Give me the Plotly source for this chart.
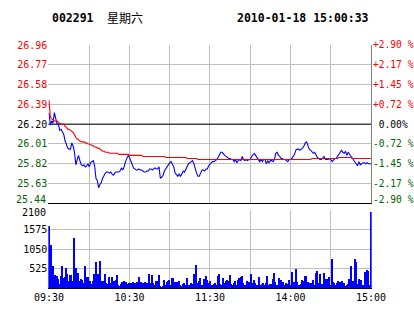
import plotly.graph_objects as go

# ---------------- data ----------------
MINUTES = list(range(241))  # minute index from 09:30 (lunch break removed)

PRICE = [
    26.31, 26.19, 26.23, 26.21, 26.31, 26.26, 26.20, 26.20, 26.14, 26.15,
    26.12, 26.10, 26.04, 26.00, 25.97, 25.96, 25.96, 26.02, 25.99, 25.93,
    25.81, 25.86, 25.90, 25.85, 25.81, 25.80, 25.81, 25.79, 25.80, 25.82,
    25.79, 25.83, 25.84, 25.85, 25.80, 25.68, 25.66, 25.59, 25.62, 25.64,
    25.68, 25.71, 25.73, 25.74, 25.74, 25.73, 25.74, 25.72, 25.71, 25.73,
    25.74, 25.74, 25.74, 25.75, 25.78, 25.76, 25.79, 25.84, 25.88, 25.90,
    25.88, 25.84, 25.81, 25.78, 25.77, 25.76, 25.76, 25.77, 25.76, 25.76,
    25.75, 25.74, 25.74, 25.75, 25.75, 25.77, 25.77, 25.76, 25.77, 25.78,
    25.77, 25.77, 25.79, 25.68, 25.69, 25.71, 25.75, 25.77, 25.79, 25.82,
    25.83, 25.84, 25.82, 25.79, 25.73, 25.71, 25.70, 25.72, 25.70, 25.72,
    25.75, 25.74, 25.77, 25.79, 25.82, 25.83, 25.84, 25.85, 25.82, 25.76,
    25.73, 25.70, 25.70, 25.73, 25.76, 25.76, 25.75, 25.77, 25.77, 25.80,
    25.82, 25.83, 25.84, 25.84, 25.85, 25.86, 25.88, 25.90, 25.93, 25.93,
    25.91, 25.90, 25.89, 25.88, 25.87, 25.87, 25.86, 25.86, 25.84, 25.86,
    25.83, 25.85, 25.86, 25.85, 25.89, 25.86, 25.85, 25.86, 25.85, 25.86,
    25.86, 25.89, 25.91, 25.92, 25.90, 25.88, 25.86, 25.84, 25.86, 25.84,
    25.86, 25.86, 25.82, 25.85, 25.83, 25.85, 25.85, 25.84, 25.86, 25.92,
    25.93, 25.90, 25.89, 25.87, 25.87, 25.86, 25.86, 25.85, 25.84, 25.86,
    25.86, 25.87, 25.89, 25.91, 25.95, 25.96, 25.96, 25.95, 25.96, 25.97,
    25.99, 26.02, 26.03, 26.00, 25.96, 25.95, 25.93, 25.92, 25.93, 25.90,
    25.88, 25.87, 25.86, 25.86, 25.88, 25.89, 25.86, 25.86, 25.86, 25.87,
    25.86, 25.84, 25.86, 25.87, 25.87, 25.89, 25.91, 25.92, 25.95, 25.93,
    25.92, 25.94, 25.90, 25.93, 25.91, 25.89, 25.87, 25.86, 25.83, 25.81,
    25.80, 25.84, 25.81, 25.82, 25.83, 25.83, 25.82, 25.83, 25.82, 25.82,
    25.82,
]

AVG_PRICE = [
    26.43, 26.27, 26.25, 26.24, 26.23, 26.23, 26.23, 26.22, 26.21, 26.20,
    26.20, 26.20, 26.18, 26.17, 26.15, 26.15, 26.14, 26.13, 26.12, 26.10,
    26.07, 26.06, 26.05, 26.04, 26.03, 26.03, 26.03, 26.02, 26.02, 26.01,
    26.01, 26.00, 26.00, 25.99, 25.98, 25.98, 25.97, 25.97, 25.96, 25.95,
    25.94, 25.94, 25.93, 25.93, 25.93, 25.92, 25.92, 25.92, 25.92, 25.92,
    25.92, 25.92, 25.91, 25.91, 25.91, 25.91, 25.91, 25.91, 25.91, 25.91,
    25.90, 25.90, 25.90, 25.90, 25.90, 25.90, 25.90, 25.90, 25.90, 25.90,
    25.89, 25.89, 25.89, 25.89, 25.89, 25.89, 25.89, 25.89, 25.89, 25.89,
    25.89, 25.89, 25.89, 25.89, 25.89, 25.89, 25.89, 25.88, 25.88, 25.88,
    25.88, 25.88, 25.88, 25.88, 25.88, 25.88, 25.88, 25.88, 25.88, 25.88,
    25.88, 25.88, 25.88, 25.87, 25.87, 25.87, 25.87, 25.87, 25.87, 25.87,
    25.87, 25.86, 25.86, 25.86, 25.86, 25.86, 25.86, 25.86, 25.86, 25.86,
    25.86, 25.86, 25.86, 25.86, 25.86, 25.86, 25.86, 25.86, 25.86, 25.86,
    25.86, 25.86, 25.86, 25.86, 25.86, 25.86, 25.86, 25.86, 25.86, 25.86,
    25.86, 25.86, 25.86, 25.86, 25.86, 25.86, 25.86, 25.86, 25.86, 25.86,
    25.86, 25.86, 25.86, 25.86, 25.86, 25.86, 25.86, 25.86, 25.86, 25.86,
    25.86, 25.86, 25.86, 25.86, 25.86, 25.86, 25.86, 25.86, 25.86, 25.86,
    25.86, 25.86, 25.86, 25.86, 25.86, 25.86, 25.86, 25.86, 25.86, 25.86,
    25.86, 25.86, 25.86, 25.86, 25.86, 25.86, 25.86, 25.86, 25.86, 25.86,
    25.86, 25.86, 25.86, 25.86, 25.86, 25.86, 25.87, 25.87, 25.87, 25.87,
    25.87, 25.87, 25.87, 25.87, 25.87, 25.87, 25.87, 25.87, 25.87, 25.87,
    25.87, 25.87, 25.87, 25.87, 25.87, 25.87, 25.88, 25.88, 25.88, 25.88,
    25.88, 25.88, 25.88, 25.88, 25.88, 25.88, 25.87, 25.87, 25.87, 25.87,
    25.87, 25.87, 25.87, 25.87, 25.87, 25.87, 25.87, 25.87, 25.87, 25.87,
    25.87,
]

VOLUME = [
    1670, 590, 1157, 590, 135, 350, 323, 240, 108, 323,
    590, 270, 296, 538, 377, 188, 350, 350, 188, 1345,
    538, 242, 404, 188, 242, 215, 135, 590, 296, 296,
    160, 188, 108, 188, 377, 700, 135, 377, 727, 108,
    188, 188, 377, 135, 108, 296, 135, 296, 135, 188,
    215, 350, 80, 55, 108, 160, 188, 108, 160, 108,
    135, 135, 135, 160, 135, 80, 160, 296, 108, 160,
    135, 80, 160, 135, 80, 377, 135, 350, 135, 80,
    188, 188, 350, 55, 30, 55, 215, 80, 160, 188,
    215, 80, 270, 270, 160, 80, 160, 188, 80, 55,
    108, 135, 80, 270, 80, 80, 135, 108, 377, 80,
    620, 135, 188, 270, 80, 55, 242, 323, 215, 135,
    188, 80, 80, 108, 135, 80, 323, 377, 108, 80,
    270, 135, 188, 215, 188, 350, 108, 80, 135, 188,
    80, 215, 270, 296, 323, 135, 80, 80, 188, 160,
    80, 377, 135, 215, 135, 80, 80, 296, 80, 108,
    135, 80, 135, 323, 80, 108, 108, 242, 404, 160,
    80, 80, 270, 215, 135, 160, 80, 135, 108, 215,
    80, 430, 80, 160, 510, 160, 80, 80, 108, 215,
    188, 323, 323, 160, 135, 135, 135, 215, 80, 404,
    457, 135, 377, 108, 108, 404, 80, 242, 242, 296,
    80, 780, 160, 135, 80, 135, 188, 160, 80, 188,
    135, 55, 80, 108, 242, 590, 135, 188, 780, 700,
    108, 242, 188, 215, 80, 80, 430, 484, 457, 80,
    2045,
]

PREV_CLOSE = 26.20
PRICE_TICKS = [26.96, 26.77, 26.58, 26.39, 26.20, 26.01, 25.82, 25.63, 25.44]
PRICE_LABELS = ["26.96", "26.77", "26.58", "26.39", "26.20", "26.01", "25.82", "25.63", "25.44"]
PCT_LABELS = ["+2.90 %", "+2.17 %", "+1.45 %", "+0.72 %", "\u00a00.00%",
              "-0.72 %", "-1.45 %", "-2.17 %", "-2.90 %"]
VOL_TICKS = [525, 1050, 1575, 2100]
VOL_LABELS = ["525", "1050", "1575", "2100"]
TIME_TICKS = [0, 30, 60, 90, 120, 150, 180, 210, 240]
TIME_LABELS = ["09:30", "", "10:30", "", "11:30", "", "14:00", "", "15:00"]
TITLE_CODE = "002291"
TITLE_DAY = "星期六"
TITLE_TIME = "2010-01-18 15:00:33"

# ---------------- style ----------------
W, H = 414, 314
RED = "#ff0000"
GREEN = "#006400"
BLUE = "#0000ff"
GRID = "#c0c0c0"
MONO = "DejaVu Sans Mono"


def colour_for(v):
    if v > PREV_CLOSE + 1e-9:
        return RED
    if v < PREV_CLOSE - 1e-9:
        return GREEN
    return "#000000"


def span(v, t):
    return f"<span style='color:{colour_for(v)}'>{t}</span>"


# the lowest price label and the top volume label are nudged by annotations (as in the original)
left_text = [span(v, t) for v, t in zip(PRICE_TICKS[:-1], PRICE_LABELS[:-1])] + [""]
vol_text = VOL_LABELS[:-1] + [""]

X0, X1 = 49, 371
pad = (X1 - X0) / 240 * 0.5
xdom = [(X0 - pad) / W, (X1 + pad) / W]
xr = [-0.5, 240.5]
price_dom = [1 - 203.3 / H, 1 - 45 / H]
vol_dom = [1 - 288.3 / H, 1 - 210 / H]

fig = go.Figure()
fig.add_trace(go.Scatter(x=[MINUTES[0] - 0.5, MINUTES[-1] + 0.5], y=[PREV_CLOSE, PREV_CLOSE],
                         mode="lines", line=dict(color="#000000", width=1),
                         xaxis="x", yaxis="y", hoverinfo="skip"))
fig.add_trace(go.Scatter(x=MINUTES, y=PRICE, mode="lines", line=dict(color=BLUE, width=1.1),
                         xaxis="x", yaxis="y", hoverinfo="skip"))
fig.add_trace(go.Scatter(x=MINUTES, y=AVG_PRICE, mode="lines", line=dict(color=RED, width=1.1),
                         xaxis="x", yaxis="y", hoverinfo="skip"))
fig.add_trace(go.Bar(x=MINUTES, y=VOLUME, width=0.75, marker=dict(color=BLUE, line=dict(width=0)),
                     xaxis="x2", yaxis="y2", hoverinfo="skip"))

common_x = dict(domain=xdom, range=xr, tickvals=TIME_TICKS, showgrid=True, gridcolor=GRID,
                gridwidth=1, zeroline=False, ticks="", showline=True, linecolor="#000000",
                linewidth=1, fixedrange=True, automargin=False)

fig.update_layout(
    width=W, height=H, margin=dict(l=0, r=0, t=0, b=0, autoexpand=False),
    paper_bgcolor="white", plot_bgcolor="white", showlegend=False,
    bargap=0,
    xaxis=dict(anchor="y", showticklabels=False, **common_x),
    xaxis2=dict(anchor="y2", ticktext=TIME_LABELS, showticklabels=True,
                tickfont=dict(family=MONO, size=10, color="#000000"), **common_x),
    yaxis=dict(domain=price_dom, range=[PRICE_TICKS[-1], PRICE_TICKS[0]], tickvals=PRICE_TICKS,
               ticktext=left_text, tickfont=dict(family=MONO, size=10), showgrid=True,
               gridcolor=GRID, zeroline=False, ticks="", fixedrange=True, automargin=False),
    yaxis2=dict(domain=vol_dom, range=[0, 2100], tickvals=VOL_TICKS, ticktext=vol_text,
                tickfont=dict(family=MONO, size=10, color="#000000"), showgrid=True, gridcolor=GRID,
                zeroline=False, ticks="", fixedrange=True, automargin=False),
)

# right edge of the price panel
fig.add_shape(type="line", xref="paper", x0=(X1 + 0.5) / W, x1=(X1 + 0.5) / W,
              yref="y domain", y0=0, y1=1, line=dict(color="#808080", width=1))

# percentage labels on the right side (last one nudged up like the original)
for i, (v, t) in enumerate(zip(PRICE_TICKS, PCT_LABELS)):
    fig.add_annotation(text=span(v, t), x=(X1 + 1) / W, y=v, xref="paper", yref="y",
                       xanchor="left", yanchor="middle", showarrow=False, borderpad=0,
                       yshift=4 if i == len(PRICE_TICKS) - 1 else 0,
                       font=dict(family=MONO, size=9.6))

# nudged edge labels
fig.add_annotation(text=span(PRICE_TICKS[-1], PRICE_LABELS[-1]), x=(X0 - 1) / W, y=PRICE_TICKS[-1],
                   xref="paper", yref="y", xanchor="right", yanchor="middle", yshift=4,
                   showarrow=False, font=dict(family=MONO, size=10))
fig.add_annotation(text=VOL_LABELS[-1], x=(X0 - 1) / W, y=VOL_TICKS[-1],
                   xref="paper", yref="y2", xanchor="right", yanchor="middle", yshift=-2.5,
                   showarrow=False, font=dict(family=MONO, size=10, color="#000000"))

ty = 1 - 17.5 / H
fig.add_annotation(text=f"<b>{TITLE_CODE}</b>", x=50 / W, y=ty, xref="paper", yref="paper",
                   xanchor="left", yanchor="middle", showarrow=False,
                   font=dict(family=MONO, size=11.5, color="#000000"))
fig.add_annotation(text=TITLE_DAY, x=105 / W, y=ty, xref="paper", yref="paper",
                   xanchor="left", yanchor="middle", showarrow=False,
                   font=dict(family="Noto Sans CJK SC", size=12, color="#000000"))
fig.add_annotation(text=f"<b>{TITLE_TIME}</b>", x=371 / W, y=ty, xref="paper", yref="paper",
                   xanchor="right", yanchor="middle", showarrow=False,
                   font=dict(family=MONO, size=11.5, color="#000000"))

fig.write_html("out.html", config={"displayModeBar": False})
